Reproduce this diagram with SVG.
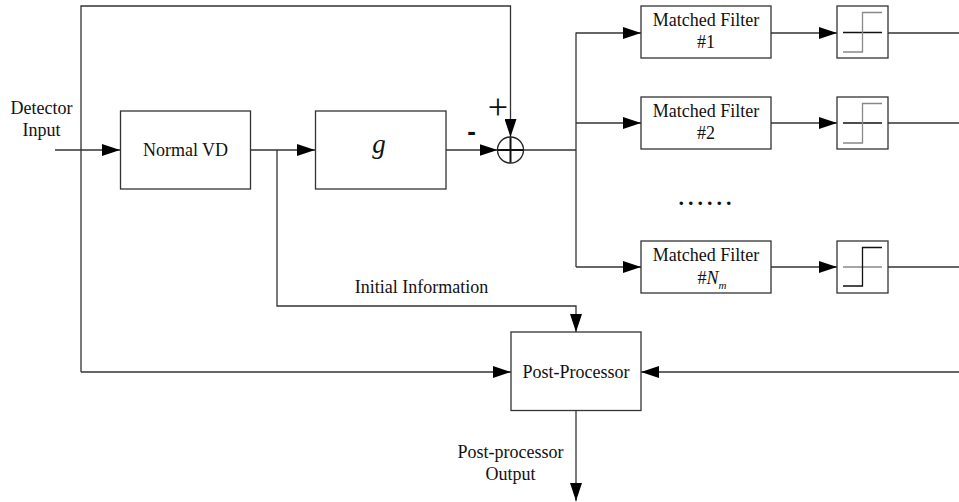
<svg xmlns="http://www.w3.org/2000/svg" width="959" height="502" viewBox="0 0 959 502">
  <style>
    .box { fill: #ffffff; stroke: #333333; stroke-width: 1.3; }
    .wire { fill: none; stroke: #333333; stroke-width: 1.3; }
    .lbl { font-family: 'Liberation Serif', 'DejaVu Serif', 'Times New Roman', serif; font-size: 18px; fill: #111111; text-anchor: middle; }
    .sign { font-family: 'Liberation Sans', Arial, sans-serif; fill: #111111; text-anchor: middle; }
    .stepg { fill: none; stroke: #888888; stroke-width: 1.3; }
    .stepk { fill: none; stroke: #111111; stroke-width: 1.3; }
  </style>
  <defs>
    <marker id="arr" markerUnits="userSpaceOnUse" markerWidth="18" markerHeight="12" refX="18" refY="6" orient="auto">
      <path d="M0,0 L18,6 L0,12 Z" fill="#000000"/>
    </marker>
  </defs>

  <rect width="959" height="502" fill="#ffffff"/>

  <!-- connectors -->
  <g id="connectors">
    <!-- detector input into Normal VD -->
    <line class="wire" x1="55" y1="150" x2="120" y2="150" marker-end="url(#arr)"/>
    <!-- feed-forward loop over the top into the summer (+) -->
    <polyline class="wire" points="81,372 81,6 510.5,6 510.5,137" marker-end="url(#arr)"/>
    <!-- raw input to post-processor -->
    <line class="wire" x1="81" y1="372" x2="511" y2="372" marker-end="url(#arr)"/>
    <!-- Normal VD to g -->
    <line class="wire" x1="251" y1="150" x2="315" y2="150" marker-end="url(#arr)"/>
    <!-- g to summer (-) -->
    <line class="wire" x1="446" y1="150" x2="497.5" y2="150" marker-end="url(#arr)"/>
    <!-- initial information to post-processor -->
    <polyline class="wire" points="277,150 277,306 576,306 576,332" marker-end="url(#arr)"/>
    <!-- summer output bus -->
    <line class="wire" x1="523.5" y1="150" x2="576" y2="150"/>
    <line class="wire" x1="576" y1="32.5" x2="576" y2="267"/>
    <!-- bus to matched filters -->
    <line class="wire" x1="576" y1="33" x2="641" y2="33" marker-end="url(#arr)"/>
    <line class="wire" x1="576" y1="123" x2="641" y2="123" marker-end="url(#arr)"/>
    <line class="wire" x1="576" y1="267" x2="641" y2="267" marker-end="url(#arr)"/>
    <!-- matched filters to thresholds -->
    <line class="wire" x1="771" y1="33" x2="837" y2="33" marker-end="url(#arr)"/>
    <line class="wire" x1="771" y1="123" x2="837" y2="123" marker-end="url(#arr)"/>
    <line class="wire" x1="771" y1="267" x2="837" y2="267" marker-end="url(#arr)"/>
    <!-- threshold outputs -->
    <line class="wire" x1="888" y1="33" x2="959" y2="33"/>
    <line class="wire" x1="888" y1="123" x2="959" y2="123"/>
    <line class="wire" x1="888" y1="267" x2="959" y2="267"/>
    <!-- decisions back into post-processor -->
    <line class="wire" x1="959" y1="372" x2="641" y2="372" marker-end="url(#arr)"/>
    <!-- post-processor output -->
    <line class="wire" x1="576" y1="411" x2="576" y2="501" marker-end="url(#arr)"/>
  </g>

  <!-- input label -->
  <g id="detector-input">
    <text class="lbl" x="41.5" y="113.5">Detector</text>
    <text class="lbl" x="41.5" y="135.5">Input</text>
  </g>

  <g id="normal-vd">
    <rect class="box" x="120.5" y="111" width="130" height="78"/>
    <text class="lbl" x="185.5" y="156">Normal VD</text>
  </g>

  <g id="g-block">
    <rect class="box" x="315.5" y="111" width="130.5" height="78"/>
    <text class="lbl" x="379" y="153" style="font-style:italic; font-size:27px">g</text>
  </g>

  <g id="summer">
    <circle cx="510.5" cy="150" r="13" fill="#ffffff" stroke="#222222" stroke-width="1.3"/>
    <line x1="498" y1="150" x2="523" y2="150" stroke="#111111" stroke-width="2"/>
    <line x1="510.5" y1="137.5" x2="510.5" y2="162.5" stroke="#111111" stroke-width="2"/>
    <text class="lbl" x="498" y="118.5" style="font-size:36px">+</text>
    <text class="sign" x="471.5" y="140" font-size="26" font-weight="bold">-</text>
  </g>

  <g id="matched-filter-1">
    <rect class="box" x="641" y="6" width="130" height="52"/>
    <text class="lbl" x="706" y="26">Matched Filter</text>
    <text class="lbl" x="706" y="48">#1</text>
  </g>
  <g id="matched-filter-2">
    <rect class="box" x="641" y="97" width="130" height="52"/>
    <text class="lbl" x="706" y="117">Matched Filter</text>
    <text class="lbl" x="706" y="139">#2</text>
  </g>
  <g id="matched-filter-nm">
    <rect class="box" x="641" y="241" width="130" height="52"/>
    <text class="lbl" x="706" y="261">Matched Filter</text>
    <text class="lbl" x="712" y="283.5">#<tspan font-style="italic">N</tspan><tspan font-style="italic" font-size="11" dy="5">m</tspan></text>
  </g>

  <g id="threshold-1">
    <rect class="box" x="837" y="6" width="51" height="52"/>
    <line class="stepk" x1="843" y1="32.5" x2="882" y2="32.5"/>
    <polyline class="stepg" points="843,52 862.5,52 862.5,12.5 882,12.5"/>
  </g>
  <g id="threshold-2">
    <rect class="box" x="837" y="97" width="51" height="52"/>
    <line class="stepk" x1="843" y1="123" x2="882" y2="123"/>
    <polyline class="stepg" points="843,143 862.5,143 862.5,103.5 882,103.5"/>
  </g>
  <g id="threshold-nm">
    <rect class="box" x="837" y="241" width="51" height="52"/>
    <line class="stepg" x1="843" y1="267" x2="882" y2="267"/>
    <polyline class="stepk" points="843,286 862.5,286 862.5,247.5 882,247.5"/>
  </g>

  <g id="ellipsis">
    <text class="lbl" x="707" y="205" style="font-size:22px; font-weight:bold; letter-spacing:4px">......</text>
  </g>

  <g id="initial-information">
    <text class="lbl" x="421.5" y="293">Initial Information</text>
  </g>

  <g id="post-processor">
    <rect class="box" x="511" y="332" width="130" height="78.5"/>
    <text class="lbl" x="576" y="377.5">Post-Processor</text>
  </g>

  <g id="post-processor-output">
    <text class="lbl" x="510.5" y="457.5">Post-processor</text>
    <text class="lbl" x="510.5" y="479.5">Output</text>
  </g>
</svg>
